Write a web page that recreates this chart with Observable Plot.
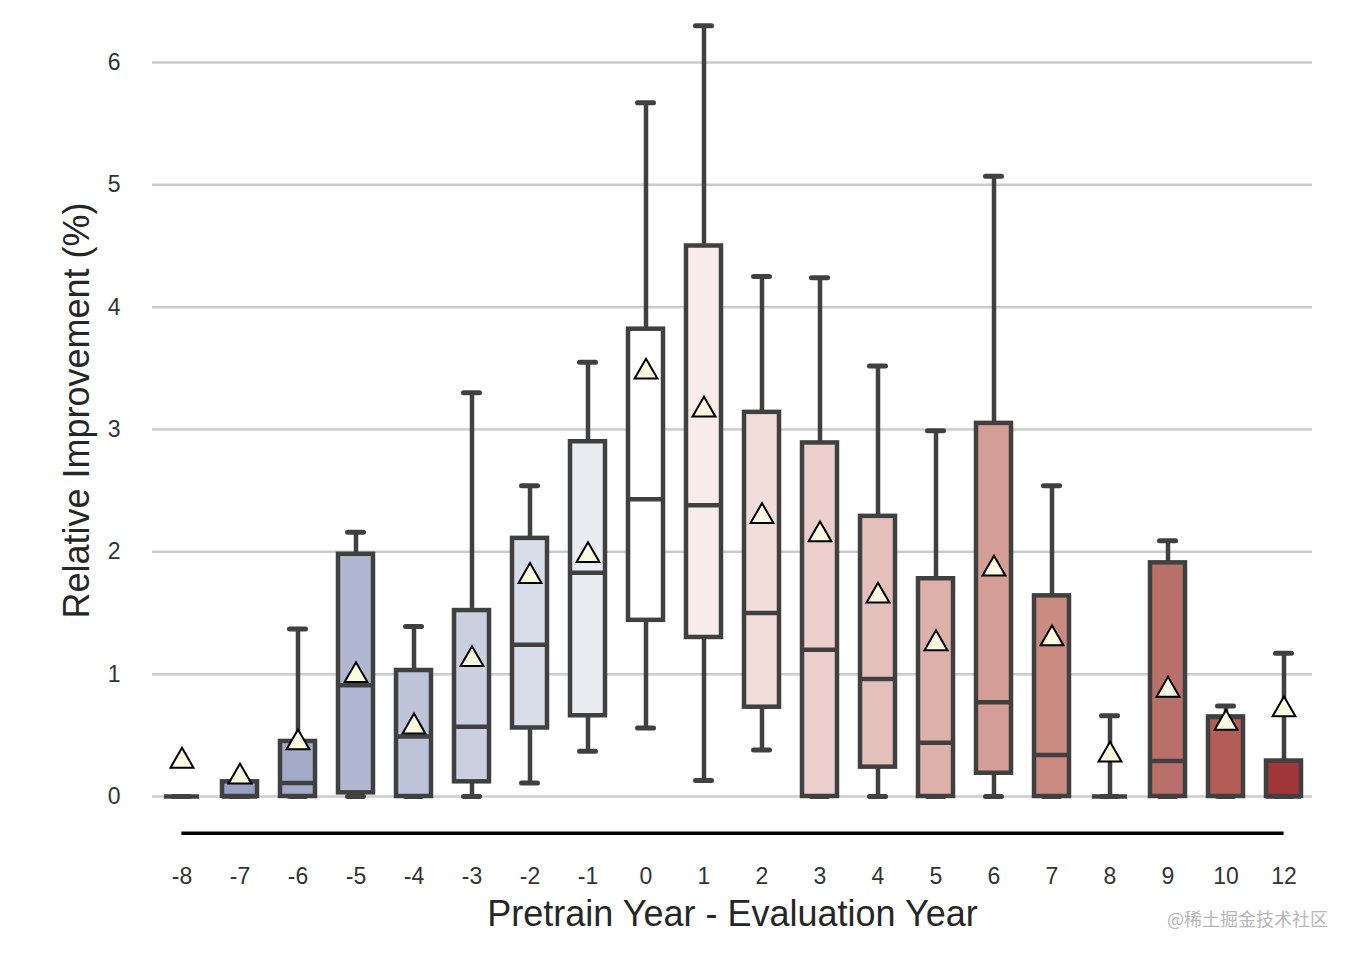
<!DOCTYPE html>
<html>
<head>
<meta charset="utf-8">
<script src="https://cdn.jsdelivr.net/npm/d3@7"></script>
<script src="https://cdn.jsdelivr.net/npm/@observablehq/plot@0.6"></script>
<style>
  html, body { margin: 0; padding: 0; background: #fff; }
  #wrap { position: relative; width: 1352px; height: 954px; font-family: "Liberation Sans", Arial, sans-serif; }
  #mark { position: absolute; left: 1167px; top: 905px; font-size: 18px; color: #b8b8b8; font-family: "Noto Sans CJK SC", sans-serif; }
</style>
</head>
<body>
<div id="wrap"><div id="mark">@稀土掘金技术社区</div></div>
<script>
const categories = ["-8","-7","-6","-5","-4","-3","-2","-1","0","1","2","3","4","5","6","7","8","9","10","12"];
const whiskerLow  = [0, 0, 0, 0, 0, 0, 0.11, 0.37, 0.56, 0.13, 0.38, 0, 0, 0, 0, 0, 0, 0, 0, 0];
const q1          = [0, 0, 0, 0.03, 0, 0.12, 0.56, 0.66, 1.44, 1.30, 0.73, 0, 0.24, 0, 0.19, 0, 0, 0, 0, 0];
const median      = [0, 0, 0.11, 0.91, 0.49, 0.57, 1.24, 1.83, 2.43, 2.38, 1.50, 1.20, 0.96, 0.44, 0.77, 0.34, 0, 0.29, 0.65, 0];
const q3          = [0, 0.12, 0.45, 1.98, 1.03, 1.52, 2.11, 2.90, 3.82, 4.50, 3.14, 2.89, 2.29, 1.78, 3.05, 1.64, 0, 1.91, 0.65, 0.29];
const whiskerHigh = [0, 0.12, 1.37, 2.16, 1.39, 3.30, 2.54, 3.55, 5.67, 6.30, 4.25, 4.24, 3.52, 2.99, 5.07, 2.54, 0.66, 2.09, 0.74, 1.17];
const means       = [0.29, 0.16, 0.44, 0.99, 0.57, 1.12, 1.80, 1.97, 3.47, 3.16, 2.29, 2.14, 1.64, 1.25, 1.86, 1.29, 0.34, 0.87, 0.60, 0.71];
const yTicks = [0, 1, 2, 3, 4, 5, 6];
const yLabel = "Relative Improvement (%)";
const xLabel = "Pretrain Year - Evaluation Year";
const palette = ["#8d98bd","#97a1c2","#a3abc9","#b0b7d0","#bdc3d8","#cbd0e1","#d9dde9","#eaecf2","#ffffff",
                 "#f8eceb","#f1dedb","#ebcfcb","#e4c0ba","#ddb0a9","#d49e96","#c98a82","#c07d76","#b8706a","#b25c55","#a0363a"];

const rows = categories.map((c, i) => ({
  cat: c, lo: whiskerLow[i], q1: q1[i], med: median[i], q3: q3[i], hi: whiskerHigh[i], mean: means[i]
}));

const edge = "#404040";
const halfBand = 17.4;
const chart = Plot.plot({
  width: 1352,
  height: 954,
  marginTop: 62,
  marginBottom: 158,
  marginLeft: 152,
  marginRight: 40,
  style: { fontFamily: "'Liberation Sans', Arial, sans-serif", background: "#fff" },
  x: { type: "band", domain: categories, paddingInner: 0.40, paddingOuter: 0.20 },
  y: { domain: [0, 6] },
  color: { type: "ordinal", domain: categories, range: palette },
  marks: [
    Plot.ruleY(yTicks, { stroke: "#cccccc", strokeWidth: 2.5 }),
    Plot.axisY(yTicks, { tickSize: 0, tickPadding: 32, fontSize: 23, color: "#333", tickFormat: d3.format("d"), label: null }),
    Plot.text([yLabel], { text: d => d, frameAnchor: "left", rotate: -90, dx: -75, dy: -19, fontSize: 36, fill: "#262626", textAnchor: "middle", lineAnchor: "middle" }),
    Plot.axisX({ tickSize: 0, tickPadding: 71, fontSize: 23, color: "#333", label: null }),
    Plot.axisX([], { label: xLabel, labelAnchor: "center", labelOffset: 129, labelArrow: "none", fontSize: 36, color: "#262626" }),
    Plot.ruleY([-0.3], { x1: () => "-8", x2: () => "12", insetLeft: halfBand, insetRight: halfBand, stroke: "#000", strokeWidth: 3.5 }),
    Plot.ruleX(rows, { x: "cat", y1: "lo", y2: "q1", stroke: edge, strokeWidth: 4.5 }),
    Plot.ruleX(rows, { x: "cat", y1: "q3", y2: "hi", stroke: edge, strokeWidth: 4.5 }),
    Plot.tickY(rows, { x: "cat", y: "lo", stroke: edge, strokeWidth: 5, strokeLinecap: "round", insetLeft: 9.5, insetRight: 9.5 }),
    Plot.tickY(rows, { x: "cat", y: "hi", stroke: edge, strokeWidth: 5, strokeLinecap: "round", insetLeft: 9.5, insetRight: 9.5 }),
    Plot.barY(rows, { x: "cat", y1: "q1", y2: "q3", fill: d => d.cat, stroke: edge, strokeWidth: 4.5 }),
    Plot.tickY(rows, { x: "cat", y: "med", stroke: edge, strokeWidth: 4.5 }),
    Plot.dot(rows, { x: "cat", y: "mean", symbol: "triangle", r: 8.5, fill: "#fbfbe2", stroke: "#000", strokeWidth: 2 })
  ]
});
document.getElementById("wrap").prepend(chart);
</script>
</body>
</html>
